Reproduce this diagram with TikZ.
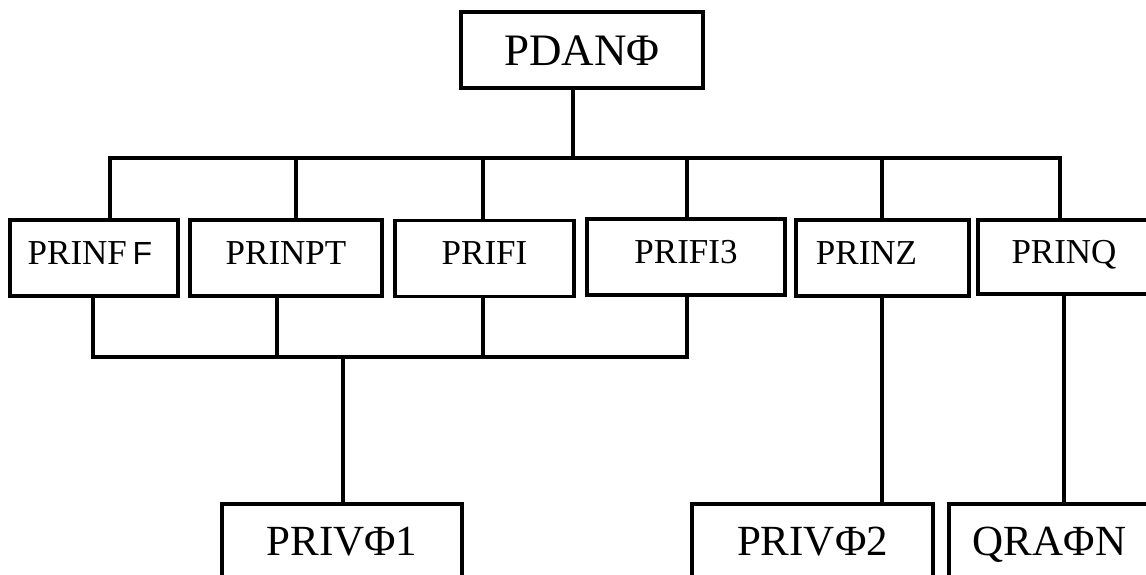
\documentclass[tikz,border=0pt]{standalone}
\usepackage{fontspec}
\setmainfont{Liberation Serif}
\newfontfamily\sansF{Liberation Sans}
\begin{document}
\begin{tikzpicture}[x=1pt,y=-1pt,
  box/.style={draw=black,line width=3.2pt,rectangle,inner sep=0pt,outer sep=0pt,fill=white},
  toprow/.style={box,font=\fontsize{45}{50}\selectfont,text height=30pt,text depth=0pt},
  midrow/.style={box,font=\fontsize{35}{40}\selectfont,text height=23pt,text depth=11pt},
  botrow/.style={box,font=\fontsize{43}{48}\selectfont,text height=28.5pt,text depth=0pt},
  link/.style={line width=3.2pt,line cap=rect}]
\useasboundingbox (0,0) rectangle (1146,574);
\clip (0,0) rectangle (1146,574);
% boxes
\node[toprow,minimum width=242pt,minimum height=76pt] (pdan) at (582,50) {PDANΦ};
\node[midrow,minimum width=168pt,minimum height=76pt] (prinff) at (94,258) {PRINF\,{\sansF\fontsize{32}{36}\selectfont F}\kern8pt};
\node[midrow,minimum width=192pt,minimum height=76pt] (prinpt) at (286,258) {PRINPT};
\node[midrow,minimum width=179pt,minimum height=76pt] (prifi) at (484.5,258.5) {PRIFI};
\node[midrow,minimum width=198pt,minimum height=76pt] (prifi3) at (686,257) {PRIFI3};
\node[midrow,minimum width=173pt,minimum height=76pt] (prinz) at (882.5,258) {PRINZ\kern32pt};
\node[midrow,minimum width=172pt,minimum height=74pt] (prinq) at (1064,257) {PRINQ};
\node[botrow,minimum width=240pt,minimum height=74pt] (priv1) at (342,541) {PRIVΦ1};
\node[botrow,minimum width=241pt,minimum height=74pt] (priv2) at (812.5,541) {PRIVΦ2};
\node[botrow,minimum width=201pt,minimum height=74pt] (qran) at (1049.5,541) {QRAΦN};
% junction coordinates
\coordinate (j0) at (573,158);
\coordinate (j1) at (110,158);
\coordinate (j2) at (296,158);
\coordinate (j3) at (483,158);
\coordinate (j4) at (687,158);
\coordinate (j5) at (882,158);
\coordinate (j6) at (1060,158);
\coordinate (k1) at (93,357);
\coordinate (k2) at (277,357);
\coordinate (k3) at (483,357);
\coordinate (k4) at (687,357);
\coordinate (k0) at (343,357);
% upper bus
\draw[link] (j0 |- pdan.south) -- (j0);
\draw[link] (j1 |- prinff.north) -- (j1) -- (j6) -- (j6 |- prinq.north);
\draw[link] (j2) -- (j2 |- prinpt.north);
\draw[link] (j3) -- (j3 |- prifi.north);
\draw[link] (j4) -- (j4 |- prifi3.north);
\draw[link] (j5) -- (j5 |- prinz.north);
% lower bus
\draw[link] (k1 |- prinff.south) -- (k1) -- (k4) -- (k4 |- prifi3.south);
\draw[link] (k2 |- prinpt.south) -- (k2);
\draw[link] (k3 |- prifi.south) -- (k3);
\draw[link] (k0) -- (k0 |- priv1.north);
% right stems
\draw[link] (882,0 |- prinz.south) -- (882,0 |- priv2.north);
\draw[link] (1064,0 |- prinq.south) -- (1064,0 |- qran.north);
\end{tikzpicture}
\end{document}
